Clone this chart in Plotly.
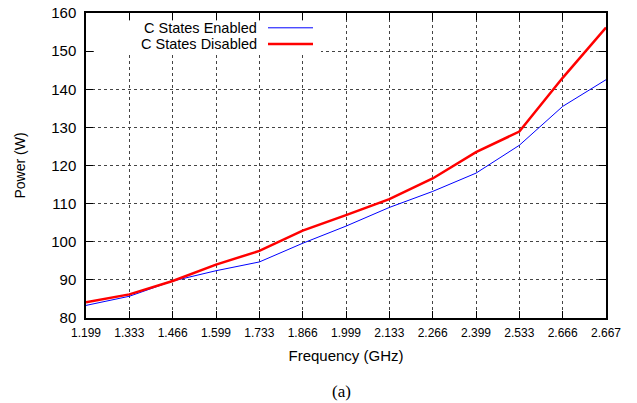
import plotly.graph_objects as go

freq_labels = ["1.199", "1.333", "1.466", "1.599", "1.733", "1.866", "1.999",
               "2.133", "2.266", "2.399", "2.533", "2.666", "2.667"]

cstates_enabled = [83.3, 85.7, 89.7, 92.4, 94.7, 99.6, 104.1, 109.0, 113.2, 118.0, 125.3, 135.5, 142.5]
cstates_disabled = [84.1, 86.2, 89.7, 94.0, 97.6, 102.9, 107.0, 111.2, 116.6, 123.5, 128.9, 143.0, 156.2]

y_ticks = [80, 90, 100, 110, 120, 130, 140, 150, 160]

fig = go.Figure()
fig.add_trace(go.Scatter(x=freq_labels, y=cstates_enabled, mode="lines",
                         line=dict(color="#0000ff", width=1), name="C States Enabled",
                         showlegend=False))
fig.add_trace(go.Scatter(x=freq_labels, y=cstates_disabled, mode="lines",
                         line=dict(color="#ff0000", width=2.5), name="C States Disabled",
                         showlegend=False))

font = "Liberation Sans, Arial, sans-serif"
axis_common = dict(showline=True, linecolor="black", linewidth=1.5, mirror="allticks",
                   ticks="inside", ticklen=7, tickcolor="black", tickwidth=1,
                   showgrid=True, gridcolor="#444", griddash="dot", gridwidth=1,
                   zeroline=False, automargin=False)

fig.update_xaxes(type="category", range=[0, len(freq_labels) - 1],
                 tickfont=dict(family=font, size=12, color="black"),
                 title=dict(text="Frequency (GHz)", font=dict(family=font, size=15, color="black"),
                            standoff=11),
                 ticklabelstandoff=3,
                 **axis_common)
fig.update_yaxes(range=[80, 160], tickvals=y_ticks,
                 tickfont=dict(family=font, size=15, color="black"),
                 title=dict(text="Power (W)", font=dict(family=font, size=14, color="black"),
                            standoff=22),
                 ticklabelstandoff=5,
                 **axis_common)

def px_x(p):
    return (p - 86) / 520

def px_y(p):
    return 1 - (p - 13) / 305

# white key box hiding the grid behind the key (kept clear of the border ticks)
fig.add_shape(type="rect", xref="paper", yref="paper", layer="above",
              x0=px_x(94), x1=px_x(321), y0=px_y(53), y1=px_y(20.5),
              fillcolor="white", line=dict(width=0))

legend_items = [("C States Enabled", "#0000ff", 1, 27.8), ("C States Disabled", "#ff0000", 2.5, 44.0)]
for text, color, w, ypix in legend_items:
    yp = px_y(ypix)
    fig.add_annotation(xref="paper", yref="paper", x=px_x(258), y=yp, text=text,
                       showarrow=False, xanchor="right", yanchor="middle",
                       borderpad=0, font=dict(family=font, size=14.5, color="black"))
    fig.add_shape(type="line", xref="paper", yref="paper", layer="above",
                  x0=px_x(268), x1=px_x(313), y0=yp, y1=yp,
                  line=dict(color=color, width=w))

fig.add_annotation(xref="paper", yref="paper", x=px_x(341), y=px_y(391),
                   text="(a)", showarrow=False, xanchor="center", yanchor="middle",
                   font=dict(family="Liberation Serif, Times New Roman, serif", size=17, color="black"))

fig.update_layout(width=637, height=403, margin=dict(l=86, r=31, t=13, b=85),
                  plot_bgcolor="white", paper_bgcolor="white")

fig.write_html("out.html")
